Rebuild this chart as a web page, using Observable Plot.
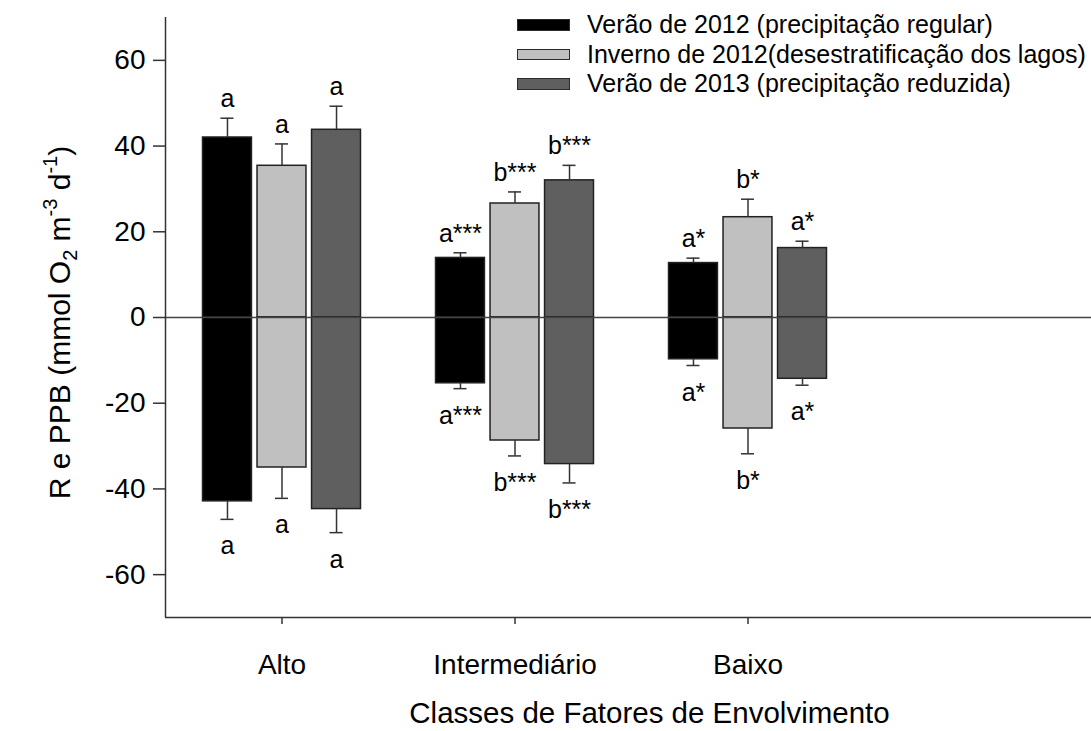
<!DOCTYPE html>
<html><head><meta charset="utf-8">
<script src="https://cdn.jsdelivr.net/npm/d3@7"></script>
<script src="https://cdn.jsdelivr.net/npm/@observablehq/plot@0.6"></script>
<style>
body{margin:0;background:#fff;font-family:"Liberation Sans",Arial,sans-serif;}
#wrap{position:relative;width:1091px;height:731px;overflow:hidden;}
#legend{position:absolute;left:517px;top:10px;font-size:25px;color:#000;}
.row{display:flex;align-items:center;height:29.6px;white-space:nowrap;}
.sw{width:51px;height:9.5px;border:1.5px solid #2b2b2b;margin-right:17px;flex:none;}
</style></head><body><div id="wrap"><div id="legend"></div></div>
<script>
// categories
const classes = ["Alto", "Intermediário", "Baixo"];
const series = [
  "Verão de 2012 (precipitação regular)",
  "Inverno de 2012(desestratificação dos lagos)",
  "Verão de 2013 (precipitação reduzida)"
];
const seriesColors = ["#000000", "#c0c0c0", "#5f5f5f"];

// PPB (positive) means per class, one array per series
const ppbVerao2012   = [42.0, 13.9, 12.7];
const ppbInverno2012 = [35.4, 26.6, 23.4];
const ppbVerao2013   = [43.8, 32.0, 16.2];
const ppbErrVerao2012   = [4.5, 1.2, 1.15];
const ppbErrInverno2012 = [5.1, 2.7, 4.2];
const ppbErrVerao2013   = [5.5, 3.5, 1.6];

// R (negative) means per class
const rVerao2012   = [-42.9, -15.35, -9.75];
const rInverno2012 = [-35.0, -28.7, -25.9];
const rVerao2013   = [-44.7, -34.2, -14.3];
const rErrVerao2012   = [4.2, 1.25, 1.45];
const rErrInverno2012 = [7.2, 3.6, 5.9];
const rErrVerao2013   = [5.5, 4.4, 1.5];

// significance letters per class
const lettersVerao2012   = ["a", "a***", "a*"];
const lettersInverno2012 = ["a", "b***", "b*"];
const lettersVerao2013   = ["a", "b***", "a*"];

const yTicks = [-60, -40, -20, 0, 20, 40, 60];
const yDomain = [-70, 70];
const xDomain = [0.5, 4.5];
const yTitle = "R e PPB (mmol O2 m-3 d-1)";
const xTitle = "Classes de Fatores de Envolvimento";

// build table
const ppb = [ppbVerao2012, ppbInverno2012, ppbVerao2013];
const ppbErr = [ppbErrVerao2012, ppbErrInverno2012, ppbErrVerao2013];
const r = [rVerao2012, rInverno2012, rVerao2013];
const rErr = [rErrVerao2012, rErrInverno2012, rErrVerao2013];
const letters = [lettersVerao2012, lettersInverno2012, lettersVerao2013];
const rows = [];
classes.forEach((c, i) => {
  series.forEach((sname, s) => {
    rows.push({g: i + 1, s, value: ppb[s][i], end: ppb[s][i] + ppbErr[s][i], letter: letters[s][i], up: true});
    rows.push({g: i + 1, s, value: r[s][i], end: r[s][i] - rErr[s][i], letter: letters[s][i], up: false});
  });
});
const step = 0.234, half = 0.105, cap = 0.028;
const cx = d => d.g + (d.s - 1) * step;

const plot = Plot.plot({
  width: 1091, height: 731,
  marginLeft: 165, marginRight: 0, marginTop: 17, marginBottom: 114,
  x: {domain: xDomain, range: [165, 1097]},
  y: {domain: yDomain},
  color: {type: "identity"},
  style: {fontFamily: "'Liberation Sans', Arial, sans-serif", fontSize: "24px", color: "#000", background: "#fff"},
  marks: [
    Plot.rect(rows, {x1: d => cx(d) - half, x2: d => cx(d) + half, y1: 0, y2: "value",
      fill: d => seriesColors[d.s], stroke: "#222", strokeWidth: 1.5}),
    Plot.ruleX(rows, {x: cx, y1: "value", y2: "end", stroke: "#333", strokeWidth: 1.5}),
    Plot.ruleY(rows, {y: "end", x1: d => cx(d) - cap, x2: d => cx(d) + cap, stroke: "#333", strokeWidth: 1.5}),
    Plot.ruleY([0], {stroke: "#444", strokeWidth: 1.5}),
    Plot.ruleX([xDomain[0]], {stroke: "#333", strokeWidth: 1.5}),
    Plot.ruleY([yDomain[0]], {stroke: "#333", strokeWidth: 1.5}),
    Plot.text(rows.filter(d => d.up), {x: cx, y: "end", text: "letter", dy: -19, fontSize: 25, fill: "#000"}),
    Plot.text(rows.filter(d => !d.up), {x: cx, y: "end", text: "letter", dy: 27, fontSize: 25, fill: "#000"}),
    Plot.axisY({ticks: yTicks, tickFormat: d => String(d), tickSize: 12, tickPadding: 8, fontSize: 28, label: null, stroke: "#333", strokeWidth: 1.5}),
    Plot.axisX({ticks: [1, 2, 3], tickFormat: i => classes[i - 1], tickSize: 7, tickPadding: 30, fontSize: 28, label: null, stroke: "#333", strokeWidth: 1.5}),
    Plot.text([xTitle], {frameAnchor: "bottom", dx: 21, dy: 105, fontSize: 29.5, fill: "#000"}),
    Plot.text([yTitle], {frameAnchor: "left", textAnchor: "middle", rotate: -90, dx: -105, dy: 5, fontSize: 30, fill: "#000", className: "ytitle"})
  ]
});
document.getElementById("wrap").prepend(plot);

// rich y title (subscript / superscripts)
const t = d3.select(plot).select("g.ytitle text");
t.text(null);
t.append("tspan").text("R e PPB (mmol O");
t.append("tspan").attr("font-size", 20).attr("dy", 7).text("2");
t.append("tspan").attr("dy", -7).text(" m");
t.append("tspan").attr("font-size", 20).attr("dy", -13).text("-3");
t.append("tspan").attr("dy", 13).text(" d");
t.append("tspan").attr("font-size", 20).attr("dy", -13).text("-1");
t.append("tspan").attr("dy", 13).text(")");

// legend
const lg = d3.select("#legend");
series.forEach((s, i) => {
  const row = lg.append("div").attr("class", "row");
  row.append("div").attr("class", "sw").style("background", seriesColors[i]);
  row.append("span").text(s);
});
</script></body></html>
